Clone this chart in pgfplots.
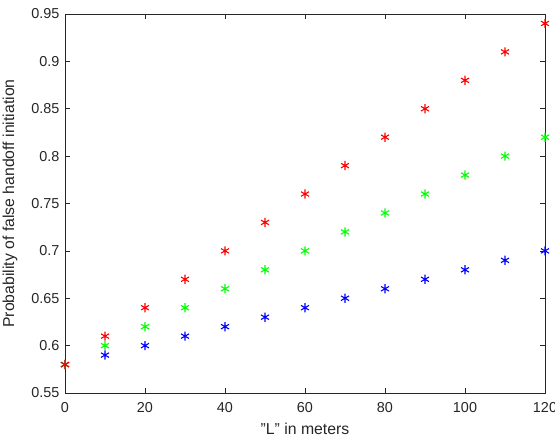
\documentclass[border=0pt]{standalone}
\usepackage{fontspec}
\setmainfont{Liberation Sans}
\usepackage{pgfplots}
\pgfplotsset{compat=1.18}

\definecolor{axgray}{rgb}{0.15,0.15,0.15}

\begin{document}
\begin{tikzpicture}
\begin{axis}[
    scale only axis,
    width=480pt, height=379pt,
    xmin=0, xmax=120, ymin=0.55, ymax=0.95,
    xtick={0,20,...,120},
    ytick={0.55,0.6,...,0.95},
    tick align=inside,
    major tick length=5pt,
    axis line style={axgray, line width=0.6pt},
    every tick/.style={axgray, line width=0.6pt},
    tick label style={font=\fontsize{14.4}{16}\selectfont, text=axgray, inner sep=0pt},
    xticklabel style={anchor=center, yshift=-15pt},
    yticklabel style={anchor=east, xshift=-5.5pt,
        /pgf/number format/fixed, /pgf/number format/precision=2},
    /pgf/number format/assume math mode=true,
    scaled y ticks=false,
    xlabel={"L" in meters},
    ylabel={Probability of false handoff initiation},
    label style={font=\fontsize{15.8}{18}\selectfont, text=axgray, inner sep=0pt},
    xlabel style={at={(axis description cs:0.5,-0.095)}, anchor=center},
    ylabel style={at={(axis description cs:-0.1146,0.5)}, anchor=center},
    clip=false,
]
\addplot[only marks, mark=asterisk, mark size=4.6pt, color=blue, line width=1.1pt]
    coordinates {(0,0.58) (10,0.59) (20,0.60) (30,0.61) (40,0.62) (50,0.63) (60,0.64)
        (70,0.65) (80,0.66) (90,0.67) (100,0.68) (110,0.69) (120,0.70)};
\addplot[only marks, mark=asterisk, mark size=4.6pt, color=green, line width=1.1pt]
    coordinates {(0,0.58) (10,0.60) (20,0.62) (30,0.64) (40,0.66) (50,0.68) (60,0.70)
        (70,0.72) (80,0.74) (90,0.76) (100,0.78) (110,0.80) (120,0.82)};
\addplot[only marks, mark=asterisk, mark size=4.6pt, color=red, line width=1.1pt]
    coordinates {(0,0.58) (10,0.61) (20,0.64) (30,0.67) (40,0.70) (50,0.73) (60,0.76)
        (70,0.79) (80,0.82) (90,0.85) (100,0.88) (110,0.91) (120,0.94)};
\end{axis}
\pgfresetboundingbox
\path[use as bounding box] (-65pt,-46pt) rectangle (490pt,393pt);
\end{tikzpicture}
\end{document}
